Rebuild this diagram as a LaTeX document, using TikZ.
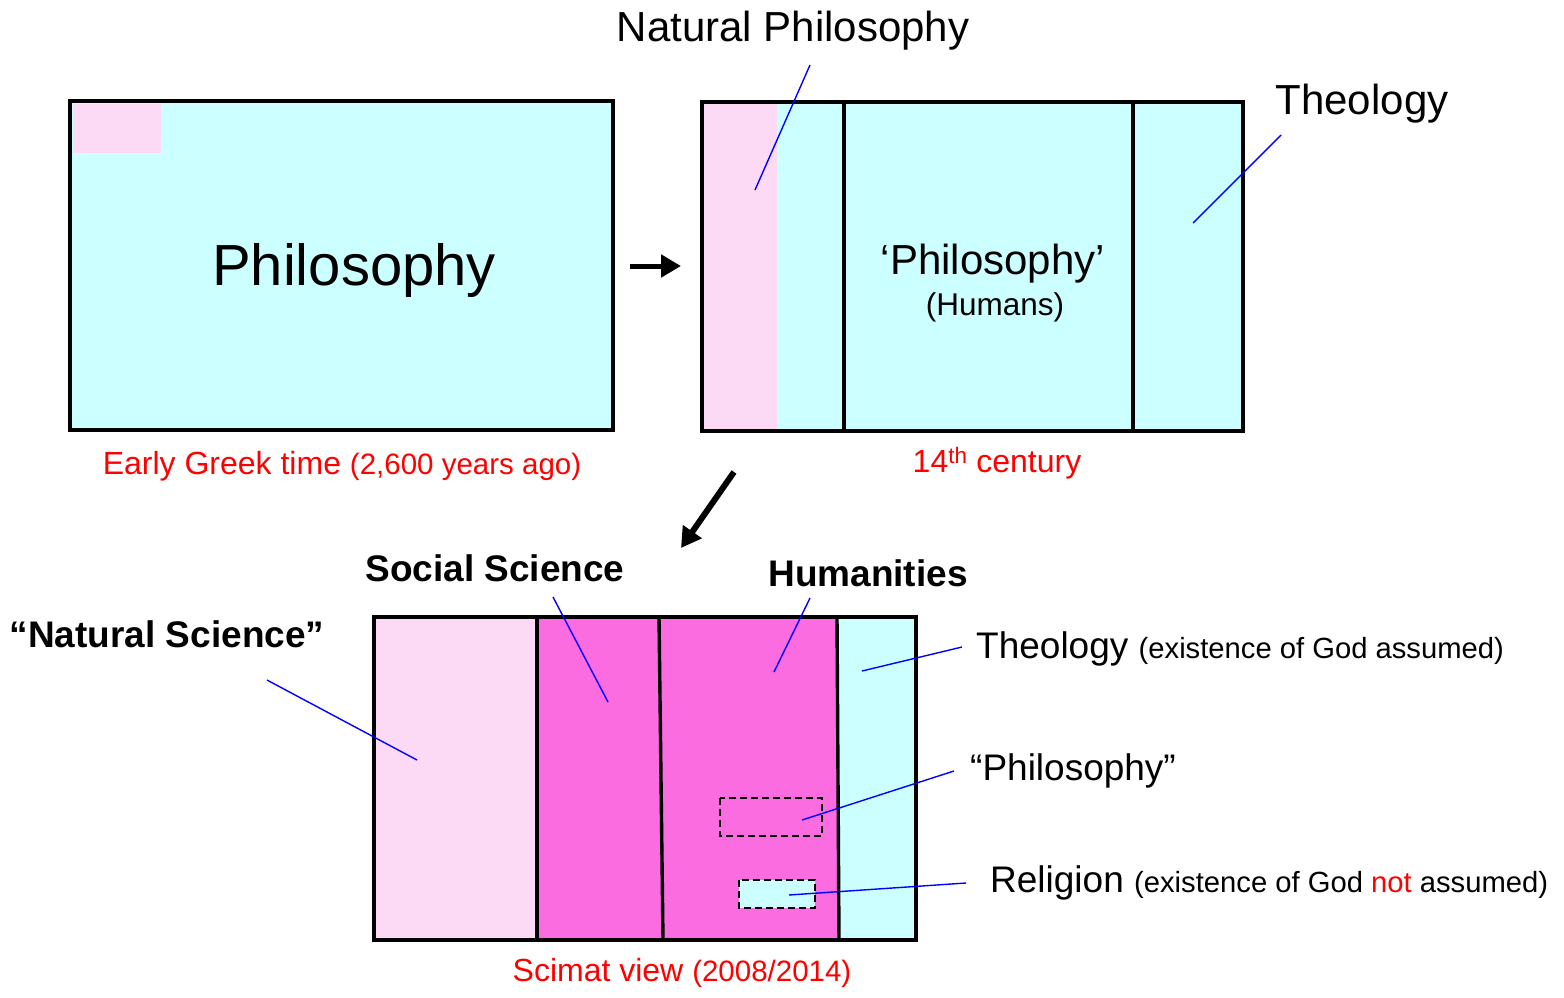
\documentclass[tikz,border=0pt]{standalone}
\usepackage{fontspec}
\setmainfont{Liberation Sans}
\usetikzlibrary{arrows.meta}

\definecolor{cyanbg}{RGB}{204,255,255}
\definecolor{pinkbg}{RGB}{252,217,245}
\definecolor{magentabg}{RGB}{250,108,224}

\begin{document}
\begin{tikzpicture}[
			x=1pt, y=-1pt,
			frame/.style={line width=3.4pt},
			leader/.style={blue, line width=1.4pt},
			dashbox/.style={line width=1.8pt, dash pattern=on 7pt off 4pt},
			bigarrow/.style={line width=5pt, -{Triangle[length=20pt,width=22pt]}},
			every node/.style={inner sep=0pt},
			headtext/.style={font=\fontsize{42}{46}\selectfont},
			sidetext/.style={font=\fontsize{37}{40}\selectfont},
			boldtext/.style={font=\fontsize{37}{40}\selectfont\bfseries},
			captext/.style={red, font=\fontsize{32}{36}\selectfont}
			]
			\useasboundingbox (0,0) rectangle (1564,997);
			
			% Early Greek time
			\fill[cyanbg] (70,101) rectangle (613,430);
			\fill[pinkbg] (73,104) rectangle (161,153);
			\draw[frame] (70,101) rectangle (613,430);
			\node[font=\fontsize{58}{62}\selectfont] (philo) at (354,270) {Philosophy};
			\node[captext] (greek) at (342,466) {Early Greek time {\fontsize{29.5}{34}\selectfont(2,600 years ago)}};
			
			% 14th century
			\fill[cyanbg] (702,102) rectangle (1243,431);
			\fill[pinkbg] (704,104) rectangle (777,430);
			\draw[frame] (702,102) rectangle (1243,431);
			\draw[frame] (844,102) -- (844,431);
			\draw[frame] (1133,102) -- (1133,431);
			\node[headtext] (philoq) at (993,264) {‘Philosophy’};
			\node[font=\fontsize{31.5}{34}\selectfont] (humans) at (995,307) {(Humans)};
			\node[captext] (cent) at (997,463) {14\textsuperscript{th} century};
			\node[headtext] (natphil) at (793,31) {Natural Philosophy};
			\node[headtext] (theol) at (1362,104) {Theology};
			\coordinate (natphil-a) at (810,65);
			\coordinate (natphil-b) at (755,190);
			\coordinate (theol-a) at (1281,135);
			\coordinate (theol-b) at (1193,223);
			\draw[leader] (natphil-a) -- (natphil-b);
			\draw[leader] (theol-a) -- (theol-b);
			
			% Arrows between the stages
			\coordinate (arr1-a) at (630,266);
			\coordinate (arr1-b) at (681,266);
			\coordinate (arr2-a) at (734,472);
			\coordinate (arr2-b) at (681,548);
			\draw[bigarrow] (arr1-a) -- (arr1-b);
			\draw[bigarrow, line width=6pt] (arr2-a) -- (arr2-b);
			
			% Scimat view
			\fill[pinkbg] (374,617) rectangle (537,940);
			\fill[magentabg] (537,617) rectangle (838,940);
			\fill[cyanbg] (838,617) rectangle (916,940);
			\draw[dashbox] (720,798) rectangle (822,836);
			\draw[dashbox, fill=cyanbg] (739,880) rectangle (815,908);
			\draw[frame] (374,617) rectangle (916,940);
			\draw[frame] (537,617) -- (537,940);
			\draw[frame] (659,617) -- (663,940);
			\draw[frame] (837,617) -- (839,940);
			\node[captext] (scimat) at (682,973) {Scimat view {\fontsize{29.5}{34}\selectfont(2008/2014)}};
			
			% Labels of the Scimat view
			\node[boldtext] (natsci) at (167,634) {“Natural Science”};
			\node[boldtext] (socsci) at (495,568) {Social Science};
			\node[boldtext] (human) at (868,573) {Humanities};
			\node[sidetext, anchor=west] (theol2) at (976,649) {Theology {\fontsize{29.2}{34}\selectfont(existence of God assumed)}};
			\node[sidetext, anchor=west] (philo2) at (970,771) {“Philosophy”};
			\node[sidetext, anchor=west] (relig) at (990,883) {Religion {\fontsize{29.2}{34}\selectfont(existence of God \textcolor{red}{not} assumed)}};
			
			% Leader lines
			\coordinate (natsci-a) at (267,680);
			\coordinate (natsci-b) at (417,760);
			\coordinate (socsci-a) at (553,597);
			\coordinate (socsci-b) at (608,702);
			\coordinate (human-a) at (810,598);
			\coordinate (human-b) at (774,672);
			\coordinate (theol2-a) at (962,647);
			\coordinate (theol2-b) at (862,671);
			\coordinate (philo2-a) at (954,771);
			\coordinate (philo2-b) at (802,820);
			\coordinate (relig-a) at (966,883);
			\coordinate (relig-b) at (789,895);
			\draw[leader] (natsci-a) -- (natsci-b);
			\draw[leader] (socsci-a) -- (socsci-b);
			\draw[leader] (human-a) -- (human-b);
			\draw[leader] (theol2-a) -- (theol2-b);
			\draw[leader] (philo2-a) -- (philo2-b);
			\draw[leader] (relig-a) -- (relig-b);
		\end{tikzpicture}
\end{document}
